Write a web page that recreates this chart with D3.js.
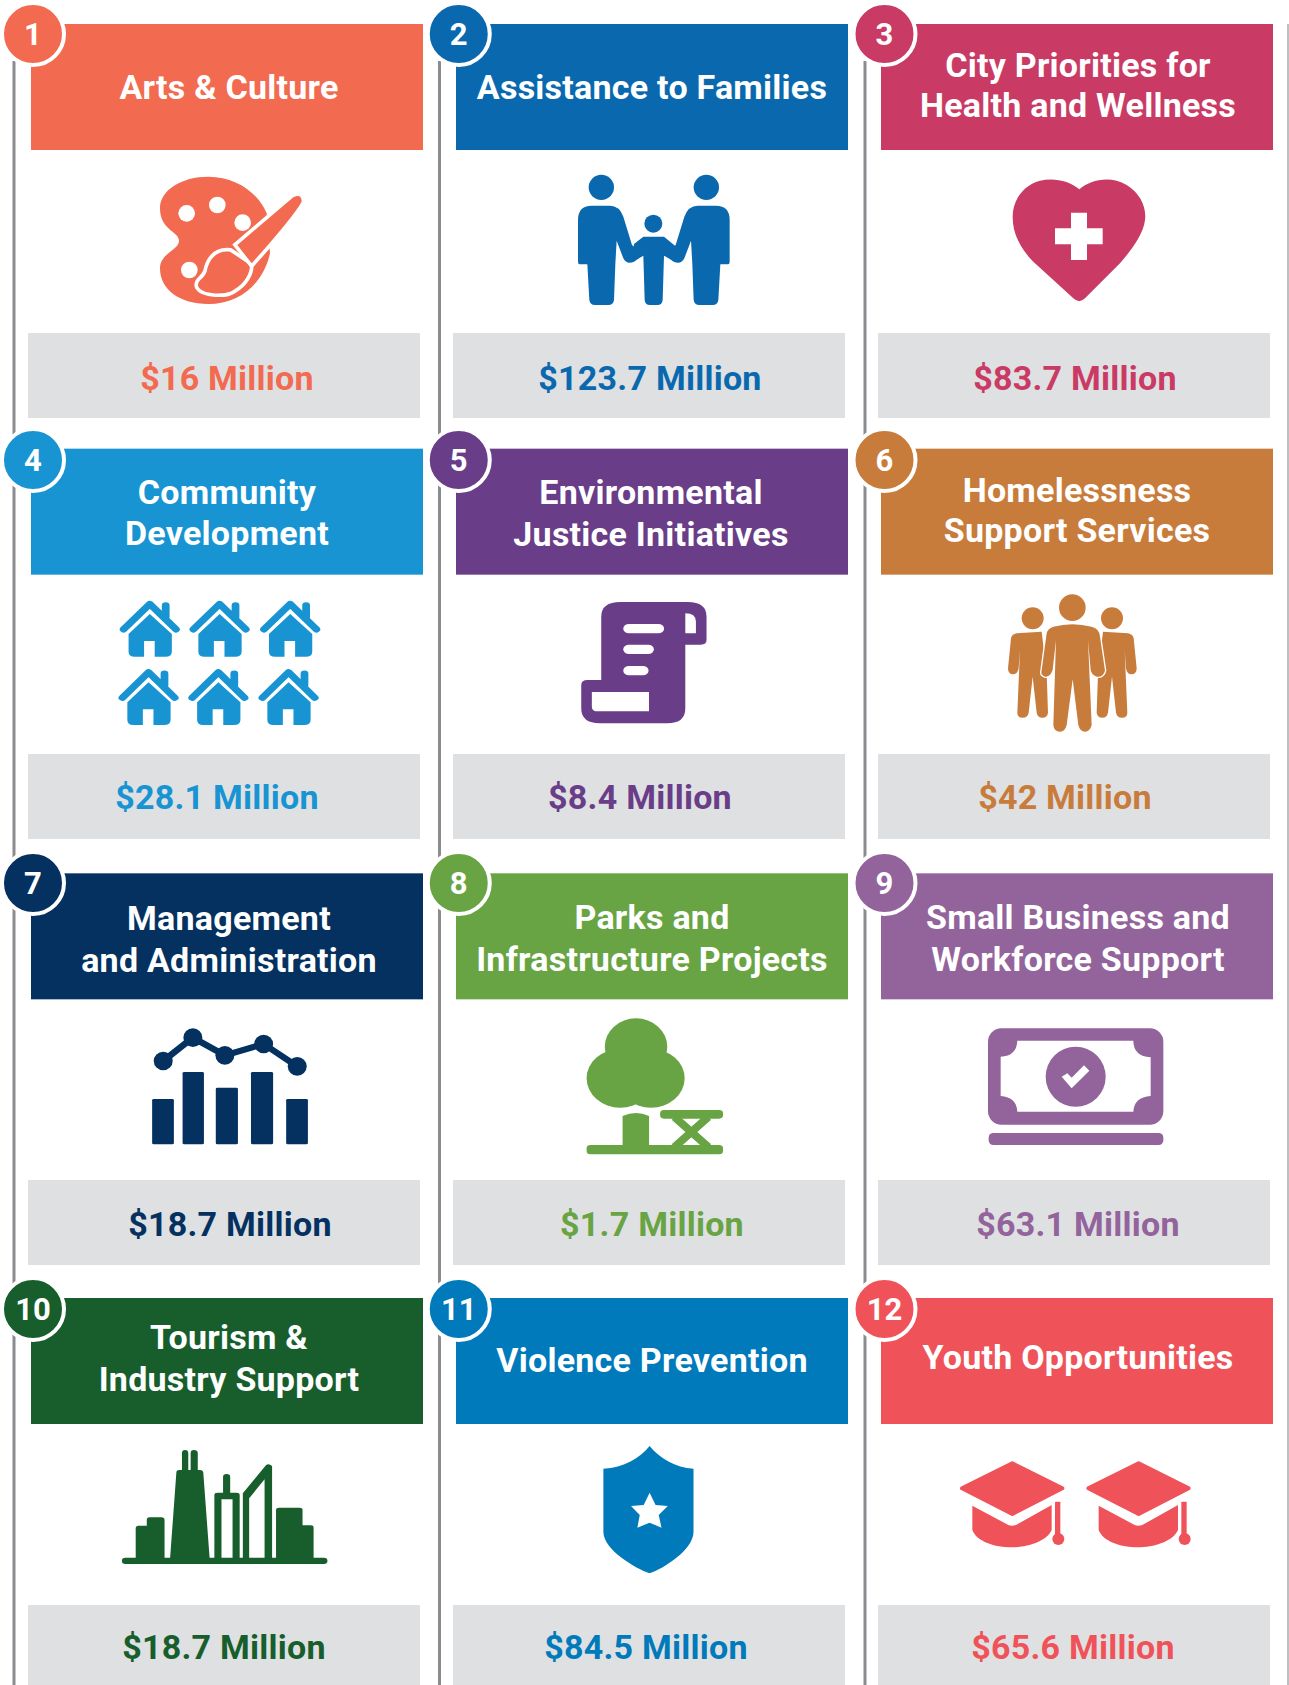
<!DOCTYPE html>
<html>
<head>
<meta charset="utf-8">
<style>
  html, body { margin: 0; padding: 0; background: #fff; }
  svg { display: block; }
  text { font-family: Roboto, sans-serif; font-weight: 700; }
  text.wide { letter-spacing: 0.25px; }
</style>
<script src="https://cdn.jsdelivr.net/npm/d3@7"></script>
</head>
<body>
<svg id="chart" width="1289" height="1685"></svg>
<script>
// Chart content
const categories = [
  ["Arts & Culture"],
  ["Assistance to Families"],
  ["City Priorities for", "Health and Wellness"],
  ["Community", "Development"],
  ["Environmental", "Justice Initiatives"],
  ["Homelessness", "Support Services"],
  ["Management", "and Administration"],
  ["Parks and", "Infrastructure Projects"],
  ["Small Business and", "Workforce Support"],
  ["Tourism &", "Industry Support"],
  ["Violence Prevention"],
  ["Youth Opportunities"],
];
const amounts = [16, 123.7, 83.7, 28.1, 8.4, 42, 18.7, 1.7, 63.1, 18.7, 84.5, 65.6];
const colors = [
  "#F26A50", "#0A69AE", "#C93A65",
  "#1894D3", "#693D87", "#C87C3C",
  "#04315F", "#68A443", "#93639C",
  "#175E2C", "#007ABA", "#EF5359",
];

// Layout
const titleCenters = [229, 652, 1078, 227, 651, 1077, 229, 652, 1078, 229, 652, 1078];
const titleBaselines = [
  [99], [99], [77, 117],
  [504, 545], [504, 546], [502, 542],
  [930, 972], [929, 971], [929, 971],
  [1349, 1391], [1372], [1369],
];
const amountCenters = [227, 650, 1075, 217, 640, 1065, 230, 652, 1078, 224, 646, 1073];
const amountBaselines = [390, 809, 1236, 1659];
const grayTops = [333, 754, 1180, 1605];
const badgeRows = [34, 460, 883, 1309];
const ruleColumns = [14, 439.5, 865];
const iconOrigins = [
  [0, 0], [430, 0], [990, 160],
  [100, 580], [100, 580], [850, 430],
  [130, 1010], [130, 1010], [960, 1010],
  [110, 1430], [110, 1430], [940, 1440],
];
// the traces of icons 4, 5, 7, 8, 10, 11 were taken from wide crops and need stretching in x
const iconStretch = [1, 1, 1, 1.2245, 1.2245, 1, 1.186, 1.186, 1, 1.186, 1.186, 1];
const houseSlots = [[0, 0], [171, 0], [344, 0], [-3, 205], [168, 205], [340, 205]];
const chartBars = [[56, 111, 267], [133, 187, 186], [217, 273, 233], [306, 362, 186], [395, 450, 267]];
const chartLine = [[84, 153], [159, 83], [240, 136], [338, 102], [423, 169]];

const svg = d3.select("#chart");
const headerW = 392, headerH = 126, grayH = 85;

const colX = d3.scalePoint().domain([0, 1, 2]).range([31, 881]);
const rowY = d3.scalePoint().domain([0, 1, 2, 3]).range([24, 1298]);
const badgeX = d3.scalePoint().domain([0, 1, 2]).range([33, 884.5]);
const fmt = (d) => `$${d} Million`;

const cells = amounts.map((amount, i) => ({
  i,
  row: Math.floor(i / 3),
  col: i % 3,
  amount,
  lines: categories[i],
  color: colors[i],
}));

// Vertical rules, the badges sit on top of them
svg.selectAll("line.rule")
  .data(ruleColumns)
  .enter()
  .append("line")
  .attr("x1", (d) => d)
  .attr("x2", (d) => d)
  .attr("y1", 61)
  .attr("y2", 1685)
  .attr("stroke", "#8B8C90")
  .attr("stroke-width", 3);

// Thin line along the right edge of the page
svg.append("line")
  .attr("x1", 1288)
  .attr("x2", 1288)
  .attr("y1", 24)
  .attr("y2", 1685)
  .attr("stroke", "#A9AAAC")
  .attr("stroke-width", 1.5);

const cell = svg.selectAll("g.cell")
  .data(cells)
  .enter()
  .append("g")
  .attr("class", "cell");

cell.append("rect")
  .attr("x", (d) => colX(d.col))
  .attr("y", (d) => rowY(d.row))
  .attr("width", headerW)
  .attr("height", headerH)
  .attr("fill", (d) => d.color);

cell.append("rect")
  .attr("x", (d) => colX(d.col) - 3)
  .attr("y", (d) => grayTops[d.row])
  .attr("width", headerW)
  .attr("height", grayH)
  .attr("fill", "#DFE0E2");

cell.append("circle")
  .attr("cx", (d) => badgeX(d.col))
  .attr("cy", (d) => badgeRows[d.row])
  .attr("r", 31)
  .attr("fill", (d) => d.color)
  .attr("stroke", "#fff")
  .attr("stroke-width", 4);

cell.append("text")
  .attr("x", (d) => badgeX(d.col))
  .attr("y", (d) => badgeRows[d.row] + 11)
  .attr("text-anchor", "middle")
  .attr("font-size", 31)
  .attr("fill", "#fff")
  .text((d) => d.i + 1);

cell.each(function (d) {
  d3.select(this).selectAll("text.title")
    .data(d.lines)
    .enter()
    .append("text")
    .attr("class", "title wide")
    .attr("x", titleCenters[d.i])
    .attr("y", (_, k) => titleBaselines[d.i][k])
    .attr("text-anchor", "middle")
    .attr("font-size", 34)
    .attr("fill", "#fff")
    .text((t) => t);
});

cell.append("text")
  .attr("class", "wide")
  .attr("x", (d) => amountCenters[d.i])
  .attr("y", (d) => amountBaselines[d.row])
  .attr("text-anchor", "middle")
  .attr("font-size", 34)
  .attr("fill", (d) => d.color)
  .text((d) => fmt(d.amount));

// Icons are traced at 3x in the coordinates of a crop, hence the scale below
const WHITE = "#fff";
const shape = (g, d, fill) => g.append("path").attr("d", d).attr("fill", fill || "currentColor");
const dot = (g, cx, cy, r, fill) =>
  g.append("circle").attr("cx", cx).attr("cy", cy).attr("r", r).attr("fill", fill || "currentColor");
const oval = (g, cx, cy, rx, ry) =>
  g.append("ellipse").attr("cx", cx).attr("cy", cy).attr("rx", rx).attr("ry", ry).attr("fill", "currentColor");
const box = (g, x0, x1, y0, y1, rx, fill) =>
  g.append("rect").attr("x", x0).attr("y", y0).attr("width", x1 - x0).attr("height", y1 - y0)
    .attr("rx", rx).attr("fill", fill || "currentColor");

const icons = [
  function palette(g) {
    shape(g, "M625 530C710 530 775 580 800 640L810 760C790 850 720 912 625 912C540 912 480 870 480 805C480 760 537 750 537 722C537 695 480 690 480 625C480 570 545 530 625 530Z");
    [[560, 640], [652, 615], [728, 668], [568, 810]].forEach(([x, y]) => dot(g, x, y, 25, WHITE));
    shape(g, "M690 755C640 750 625 790 620 815C610 840 590 840 595 860C610 885 680 885 700 870C735 850 750 820 750 795Z")
      .attr("stroke", WHITE).attr("stroke-width", 22).attr("paint-order", "stroke");
    shape(g, "M712 735L880 592Q905 580 905 605Q880 650 755 790Z")
      .attr("stroke", WHITE).attr("stroke-width", 22).attr("paint-order", "stroke");
  },
  function family(g) {
    const adult = "M444 660Q444 617 485 617H540Q568 617 580 650L606 735L640 765L612 785Q590 795 580 775L560 722L556 793L552 900Q550 915 535 915H495Q480 915 478 900L472 793H450Q444 793 444 785Z";
    shape(g, adult);
    shape(g, adult).attr("transform", "translate(1343,0) scale(-1,1)");
    dot(g, 514, 562, 38);
    dot(g, 829, 562, 38);
    dot(g, 670, 671, 27);
    shape(g, "M612 732L640 710H702L735 737L740 787L702 767L698 900Q697 915 682 915H660Q645 915 644 900L640 767L605 787Z");
  },
  function heart(g) {
    shape(g, "M268 88C300 60 360 45 410 75C450 100 470 140 465 180C460 225 420 275 390 310L285 415Q268 432 250 415L130 305C90 265 68 220 68 170C68 120 100 75 150 62C190 52 240 62 268 88Z");
    shape(g, "M243 158H291V205H338V253H291V300H243V253H195V205H243Z", WHITE);
  },
  function houses(g) {
    houseSlots.forEach(([dx, dy]) => {
      const h = g.append("g").attr("transform", `translate(${dx},${dy})`);
      shape(h, "M122 102L176 162V215Q176 230 160 230H134V183H108V230H85Q70 230 70 215V162Z");
      h.append("path").attr("d", "M58 148L122 72L186 148M161 110V76")
        .attr("fill", "none").attr("stroke", "currentColor")
        .attr("stroke-width", 19).attr("stroke-linecap", "round").attr("stroke-linejoin", "round");
    });
  },
  function scroll(g) {
    shape(g, "M1228 300V110Q1228 66 1275 66H1440Q1486 66 1486 110V180Q1486 194 1472 194H1434V385Q1434 430 1390 430H1225Q1179 430 1179 385V315Q1179 300 1195 300Z");
    shape(g, "M1434 100Q1460 100 1460 125V160H1434Z", WHITE);
    box(g, 1282, 1382, 132, 160, 14, WHITE);
    box(g, 1282, 1357, 194, 222, 14, WHITE);
    box(g, 1282, 1344, 258, 286, 14, WHITE);
    shape(g, "M1205 336H1345V394H1220Q1205 394 1205 380Z", WHITE);
  },
  function people(g) {
    const side = "M500 610L575 605L590 730L594 848Q592 863 577 863Q563 863 560 848L548 740L536 848Q533 863 518 863Q502 863 502 848L510 660L506 715Q503 733 490 733Q474 733 474 715L483 625Q485 613 500 610Z";
    shape(g, side);
    shape(g, side).attr("transform", "translate(1334,0) scale(-1,1)");
    dot(g, 548, 565, 33);
    dot(g, 786, 565, 33);
    shape(g, "M610 590Q667 575 725 590Q750 597 750 620L765 722Q760 742 740 740Q725 735 722 720L714 630L725 885Q720 905 705 905Q690 905 685 885L668 748L650 885Q645 905 630 905Q612 905 610 885L618 630L608 720Q600 742 585 740Q570 735 575 720L590 610Q592 597 610 590Z")
      .attr("stroke", WHITE).attr("stroke-width", 8).attr("paint-order", "stroke");
    dot(g, 667, 533, 40);
  },
  function barsAndLine(g) {
    chartBars.forEach(([x0, x1, y0]) => box(g, x0, x1, y0, 403, 4));
    g.append("path").attr("d", d3.line()(chartLine))
      .attr("fill", "none").attr("stroke", "currentColor").attr("stroke-width", 18);
    chartLine.forEach(([x, y]) => oval(g, x, y, 24, 28));
  },
  function tree(g) {
    oval(g, 1280, 110, 79, 85);
    oval(g, 1240, 205, 85, 88);
    oval(g, 1318, 205, 85, 88);
    shape(g, "M1246 318Q1280 300 1313 318V410H1246Z");
    box(g, 1155, 1500, 405, 433, 10);
    box(g, 1341, 1500, 300, 326, 10);
    g.append("path").attr("d", "M1378 322L1462 410M1462 322L1378 410")
      .attr("fill", "none").attr("stroke", "currentColor").attr("stroke-width", 22);
  },
  function banknote(g) {
    box(g, 84, 610, 55, 344, 40);
    shape(g, "M172 92H520Q520 138 572 142V258Q522 262 520 305H172Q170 262 122 258V140Q170 138 172 92Z", WHITE);
    dot(g, 347, 200, 90);
    shape(g, "M305 200L335 235L388 182L372 166L335 203L322 190Z", WHITE);
    box(g, 86, 610, 369, 405, 14);
  },
  function skyline(g) {
    box(g, 30, 550, 383, 402, 9);
    shape(g, "M65 385V295Q65 287 72 287H93V270Q93 262 100 262H130Q138 262 138 270V385Z");
    shape(g, "M152 385L168 125Q168 120 175 120H182V70Q182 60 190 60Q198 60 198 70V120H204V70Q204 60 212 60Q222 60 222 70V120H228Q235 120 236 128L252 385Z");
    shape(g, "M264 385V195Q264 188 272 188H286V140Q286 132 295 132Q304 132 304 140V188H320Q328 188 328 195V385H310V208H282V385Z");
    shape(g, "M336 385V190L395 105Q402 100 410 108V385H391V148L352 205V385Z");
    shape(g, "M420 385V240Q420 233 428 233H480Q487 233 487 240V286H508Q515 286 515 293V385Z");
  },
  function shield(g) {
    shape(g, "M1365 48C1390 85 1430 113 1476 116V305C1476 360 1400 415 1365 430C1330 415 1248 360 1248 305V116C1300 113 1340 85 1365 48Z");
    shape(g, "M1365 188L1380 225L1411 228L1388 255L1395 293L1365 278L1334 293L1340 255L1318 228L1350 225Z", WHITE);
  },
  function caps(g) {
    [0, 379].forEach((dx) => {
      const c = g.append("g").attr("transform", `translate(${dx},0)`);
      shape(c, "M217 70L367 145L217 222L66 145Z")
        .attr("stroke", "currentColor").attr("stroke-width", 12).attr("stroke-linejoin", "round");
      shape(c, "M97 197L205 255Q215 260 228 255L335 195V270C320 305 260 322 215 322C165 322 110 305 97 270Z");
      box(c, 345, 361, 185, 295, 2);
      dot(c, 355, 297, 18);
    });
  },
];

cell.append("g")
  .attr("transform", (d) => `translate(${iconOrigins[d.i]}) scale(${iconStretch[d.i] / 3},${1 / 3})`)
  .attr("color", (d) => d.color)
  .each(function (d) {
    icons[d.i](d3.select(this));
  });
</script>
</body>
</html>
